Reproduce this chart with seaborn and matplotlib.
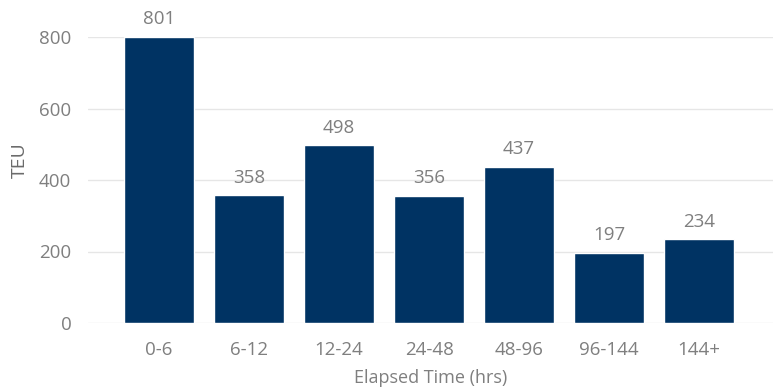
import matplotlib
matplotlib.use("Agg")
import matplotlib.pyplot as plt
import seaborn as sns
import pandas as pd

# Container dwell buckets and TEU counts
categories = ["0-6", "6-12", "12-24", "24-48", "48-96", "96-144", "144+"]
teu = [801, 358, 498, 356, 437, 197, 234]
y_ticks = [0, 200, 400, 600, 800]

df = pd.DataFrame({"bucket": categories, "teu": teu})

sns.set_theme(style="white")
plt.rcParams["font.family"] = ["Open Sans", "DejaVu Sans"]

text_gray = "#7f7f7f"
bar_color = "#003363"

fig = plt.figure(figsize=(7.73, 3.90), dpi=100)
ax = fig.add_axes([88 / 773, 67 / 390, 685 / 773, 286 / 390])

sns.barplot(data=df, x="bucket", y="teu", order=categories, color=bar_color,
            saturation=1, width=0.78, ax=ax, zorder=3)

ax.set_xlim(-0.79, 6.82)
ax.set_ylim(0, 800)
ax.set_yticks(y_ticks)
ax.yaxis.grid(True, color="#e6e6e6", linewidth=1.0, zorder=0)
ax.xaxis.grid(False)
for s in ax.spines.values():
    s.set_visible(False)

ax.tick_params(axis="both", length=0, labelsize=13.5, labelcolor=text_gray)
ax.tick_params(axis="y", pad=12)
ax.tick_params(axis="x", pad=13)

for patch, val in zip(ax.patches, teu):
    ax.annotate(f"{val}", (patch.get_x() + patch.get_width() / 2, patch.get_height()),
                xytext=(0, 6), textcoords="offset points", ha="center", va="bottom",
                fontsize=13.5, color=text_gray, annotation_clip=False)

ax.set_xlabel("Elapsed Time (hrs)", fontsize=13, color=text_gray)
ax.xaxis.set_label_coords(0.5, -0.16)
ax.set_ylabel("TEU", fontsize=14, color="#6b6b6b")
ax.yaxis.set_label_coords(-0.087, 0.57)

fig.savefig("out.png", dpi=100)
